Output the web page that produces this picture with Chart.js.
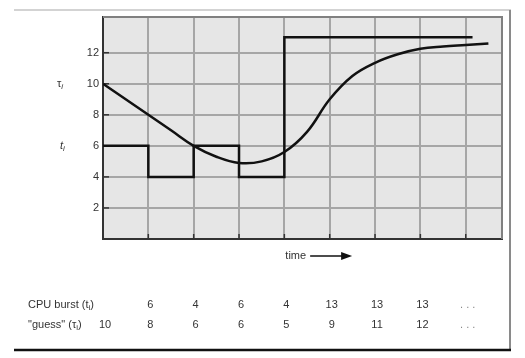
<!DOCTYPE html>
<html>
<head>
<meta charset="utf-8">
<script src="https://cdn.jsdelivr.net/npm/chart.js@4/dist/chart.umd.min.js"></script>
<style>
  html, body { margin: 0; padding: 0; background: #fff; }
  #wrap { width: 525px; height: 358px; position: relative; }
</style>
</head>
<body>
<div id="wrap"><canvas id="c" width="525" height="358"></canvas></div>
<script>
// ---- data ----
const burstX = [0, 1, 2, 3, 4, 5, 6, 7, 8.15];
const burst = [6, 4, 6, 4, 13, 13, 13, 13, 13];
const curveX = [0, 0.5, 1, 1.5, 2, 2.5, 3, 3.5, 4, 4.5, 5, 5.5, 6, 6.5, 7, 7.5, 8, 8.5];
const curveY = [10, 9.0, 8.0, 7.0, 6.0, 5.3, 4.9, 5.0, 5.6, 6.9, 9.0, 10.5, 11.35, 11.9, 12.25, 12.4, 12.5, 12.6];
const tableBurst = ['6', '4', '6', '4', '13', '13', '13', '. . .'];   // at time positions 1..8
const tableGuess = ['10', '8', '6', '6', '5', '9', '11', '12', '. . .']; // at time positions 0..8
const yTicks = [0, 2, 4, 6, 8, 10, 12];

const FONT = '"Liberation Sans", Arial, Helvetica, sans-serif';
const TXT = '#333';

function toPts(xs, ys) { return xs.map((x, i) => ({ x: x, y: ys[i] })); }

function drawRich(ctx, parts, x, y) {
  let cx = x;
  parts.forEach(p => {
    const size = p.sub ? 8 : 11;
    ctx.font = (p.italic ? 'italic ' : '') + size + 'px ' + FONT;
    ctx.fillText(p.t, cx, y + (p.sub ? 3 : 0));
    cx += ctx.measureText(p.t).width;
  });
}

const decor = {
  id: 'decor',
  beforeDraw(chart) {
    const { ctx, chartArea: a } = chart;
    ctx.save();
    ctx.fillStyle = '#e6e6e6';
    ctx.fillRect(a.left, a.top, a.right - a.left, a.bottom - a.top);
    ctx.restore();
  },
  beforeDatasetsDraw(chart) {
    const { ctx, chartArea: a, scales } = chart;
    ctx.save();
    ctx.strokeStyle = '#808080';
    ctx.lineWidth = 2;
    ctx.beginPath();
    ctx.moveTo(a.left, a.top); ctx.lineTo(a.right, a.top); ctx.lineTo(a.right, a.bottom);
    ctx.stroke();
    ctx.strokeStyle = '#333';
    ctx.lineWidth = 1.5;
    yTicks.forEach(v => {
      if (v === 0) return;
      const py = scales.y.getPixelForValue(v);
      ctx.beginPath(); ctx.moveTo(a.left, py); ctx.lineTo(a.left + 6, py); ctx.stroke();
    });
    for (let i = 1; i <= 8; i++) {
      const px = scales.x.getPixelForValue(i);
      ctx.beginPath(); ctx.moveTo(px, a.bottom); ctx.lineTo(px, a.bottom - 5); ctx.stroke();
    }
    ctx.restore();
  },
  afterDraw(chart) {
    const { ctx, chartArea: a, scales } = chart;
    const xs = scales.x, ys = scales.y;
    ctx.save();
    ctx.fillStyle = TXT;
    ctx.textBaseline = 'middle';
    ctx.textAlign = 'left';
    drawRich(ctx, [{ t: 'τ' }, { t: 'i', sub: true, italic: true }], 57, ys.getPixelForValue(10));
    drawRich(ctx, [{ t: 't', italic: true }, { t: 'i', sub: true, italic: true }], 60, ys.getPixelForValue(6));
    const tx = xs.getPixelForValue(4) + 1;
    const ty = 256;
    ctx.font = '11px ' + FONT;
    ctx.fillText('time', tx, ty);
    const ax0 = tx + ctx.measureText('time').width + 4;
    ctx.strokeStyle = '#111';
    ctx.lineWidth = 1.5;
    ctx.beginPath(); ctx.moveTo(ax0, ty); ctx.lineTo(ax0 + 34, ty); ctx.stroke();
    ctx.fillStyle = '#111';
    ctx.beginPath();
    ctx.moveTo(ax0 + 42, ty); ctx.lineTo(ax0 + 31, ty - 4); ctx.lineTo(ax0 + 31, ty + 4); ctx.closePath(); ctx.fill();
    ctx.fillStyle = TXT;
    ctx.textAlign = 'left';
    const r1 = 305, r2 = 325;
    drawRich(ctx, [{ t: 'CPU burst (t' }, { t: 'i', sub: true }, { t: ')' }], 28, r1);
    drawRich(ctx, [{ t: '"guess" (τ' }, { t: 'i', sub: true }, { t: ')' }], 28, r2);
    ctx.font = '11px ' + FONT;
    ctx.textAlign = 'center';
    tableBurst.forEach((s, i) => {
      ctx.fillStyle = s.indexOf('.') >= 0 ? '#888' : TXT;
      ctx.fillText(s, xs.getPixelForValue(i + 1) + 2, r1);
    });
    tableGuess.forEach((s, i) => {
      ctx.fillStyle = s.indexOf('.') >= 0 ? '#888' : TXT;
      ctx.fillText(s, xs.getPixelForValue(i) + 2, r2);
    });
    ctx.strokeStyle = '#c4c4c4';
    ctx.lineWidth = 1.5;
    ctx.beginPath(); ctx.moveTo(14, 10); ctx.lineTo(511, 10); ctx.stroke();
    ctx.strokeStyle = '#8a8a8a';
    ctx.lineWidth = 2;
    ctx.beginPath(); ctx.moveTo(510, 10); ctx.lineTo(510, 350); ctx.stroke();
    ctx.strokeStyle = '#111';
    ctx.lineWidth = 2.5;
    ctx.beginPath(); ctx.moveTo(14, 350); ctx.lineTo(511, 350); ctx.stroke();
    ctx.restore();
  }
};

new Chart(document.getElementById('c'), {
  type: 'line',
  data: {
    datasets: [
      {
        label: 'CPU burst',
        data: toPts(burstX, burst),
        borderColor: '#111',
        borderWidth: 2.5,
        pointRadius: 0,
        stepped: 'before',
        fill: false
      },
      {
        label: 'guess',
        data: toPts(curveX, curveY),
        borderColor: '#111',
        borderWidth: 2.5,
        pointRadius: 0,
        tension: 0.4,
        fill: false
      }
    ]
  },
  options: {
    responsive: false,
    animation: false,
    devicePixelRatio: 1,
    layout: { padding: { top: 17, right: 23, left: 0, bottom: 0 } },
    plugins: { legend: { display: false }, tooltip: { enabled: false } },
    scales: {
      x: {
        type: 'linear',
        min: 0,
        max: 8.8,
        ticks: { display: false, stepSize: 1 },
        grid: { color: '#a6a6a6', lineWidth: 2, drawTicks: false },
        border: { display: true, color: '#333', width: 2 },
        afterFit(s) { s.height = 358 - 239; }
      },
      y: {
        min: 0,
        max: 14.3,
        afterBuildTicks(s) { s.ticks = yTicks.map(v => ({ value: v })); },
        ticks: {
          callback: v => (v === 0 ? '' : v),
          color: TXT,
          font: { family: FONT, size: 11 },
          padding: 4
        },
        grid: { color: '#a6a6a6', lineWidth: 2, drawTicks: false },
        border: { display: true, color: '#333', width: 2 },
        afterFit(s) { s.width = 103; }
      }
    }
  },
  plugins: [decor]
});
</script>
</body>
</html>
